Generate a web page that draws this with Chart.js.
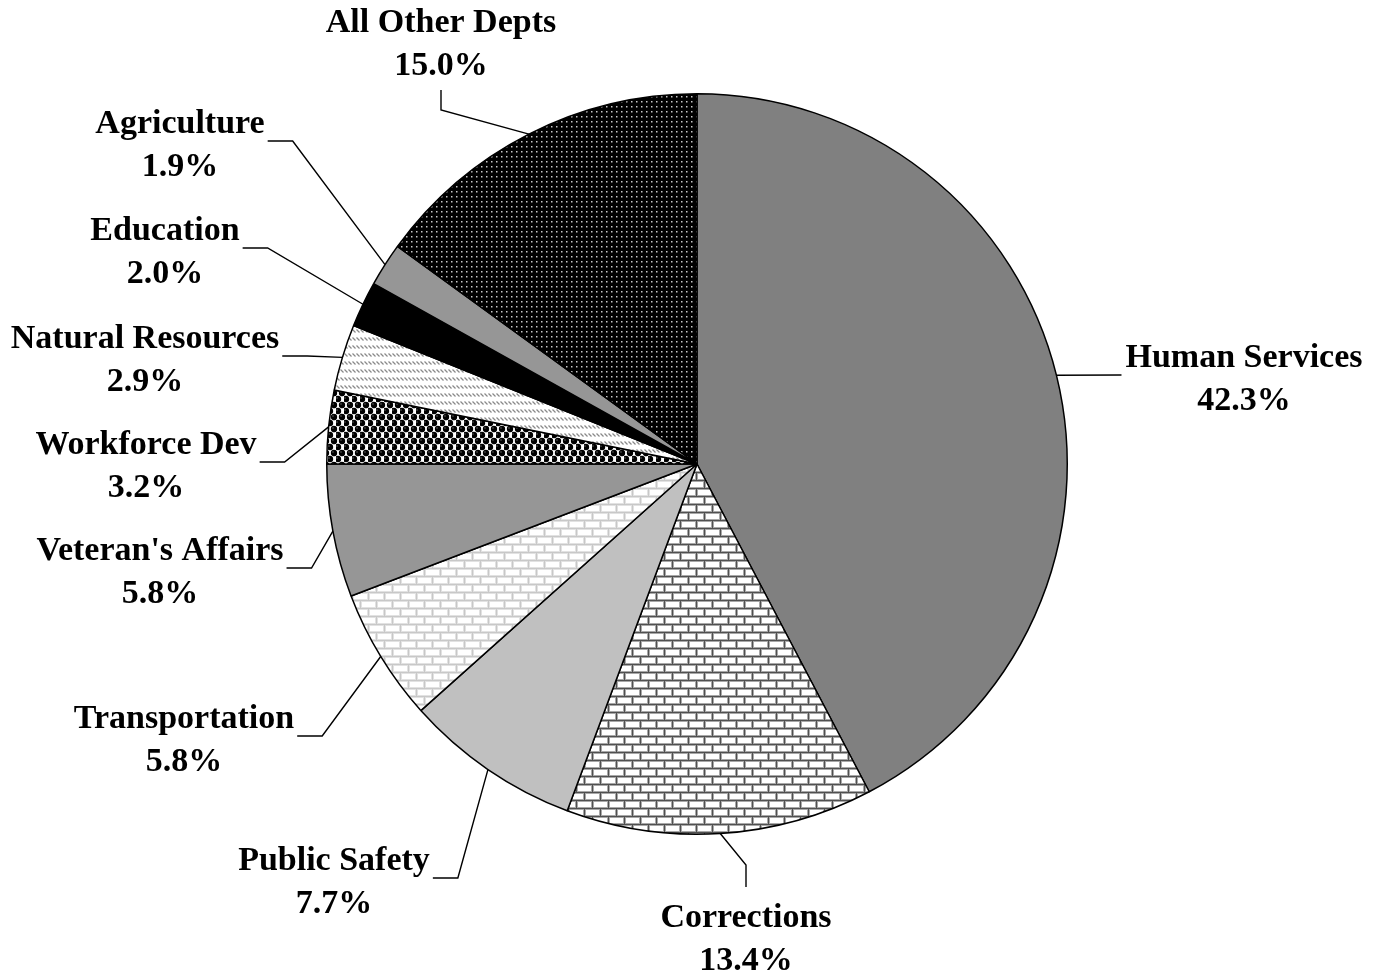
<!DOCTYPE html>
<html>
<head>
<meta charset="utf-8">
<script src="https://cdn.jsdelivr.net/npm/chart.js@4.4.0/dist/chart.umd.min.js"></script>
<style>
  body { margin: 0; background: #fff; }
  #wrap { width: 1380px; height: 978px; }
</style>
</head>
<body>
<div id="wrap"><canvas id="grafico" width="1380" height="978"></canvas></div>
<script>
// datos del grafico (en orden horario desde las 12)
const departamentos = ["Human Services", "Corrections", "Public Safety", "Transportation",
  "Veteran's Affairs", "Workforce Dev", "Natural Resources", "Education", "Agriculture", "All Other Depts"];
const porcentajes = [42.3, 13.4, 7.7, 5.8, 5.8, 3.2, 2.9, 2.0, 1.9, 15.0];
const etiquetasPct = ["42.3%", "13.4%", "7.7%", "5.8%", "5.8%", "3.2%", "2.9%", "2.0%", "1.9%", "15.0%"];

// donde va cada etiqueta (centro de la primera linea) y de que lado sale la linea guia
const posEtiquetas = [
  [1244, 358, 'left'], [746, 918, 'below'], [334, 861, 'right'], [184, 719, 'right'],
  [160, 551, 'right'], [146, 445, 'right'], [145, 339, 'right'], [165, 231, 'right'],
  [180, 124, 'right'], [441, 23, 'above']
];

function nuevoTile(w, h) {
  const c = document.createElement('canvas');
  c.width = w; c.height = h;
  return c;
}

function ladrillos(mortero, borde) {
  const c = nuevoTile(16, 16);
  const g = c.getContext('2d');
  g.fillStyle = mortero;
  g.fillRect(0, 0, 16, 16);
  function b(x, y) {
    g.fillStyle = borde;
    g.fillRect(x, y, 15, 7);
    g.fillStyle = '#fff';
    g.fillRect(x + 1, y + 1, 13, 5);
  }
  b(1, 1); b(-7, 9); b(9, 9);
  return g.createPattern(c, 'repeat');
}

function esferas() {
  const c = nuevoTile(8, 12);
  const g = c.getContext('2d');
  g.fillStyle = '#fff';
  g.fillRect(0, 0, 8, 12);
  [[2, 3], [6, 9], [-2, 9], [10, 9], [2, 15], [6, -3]].forEach(p => {
    g.fillStyle = '#000';
    g.beginPath();
    g.arc(p[0], p[1], 3.2, 0, Math.PI * 2);
    g.fill();
    g.fillStyle = '#aaa';
    g.fillRect(p[0] - 1.5, p[1] - 1.5, 1, 1);
  });
  return g.createPattern(c, 'repeat');
}

function rayitas() {
  const c = nuevoTile(4, 8);
  const g = c.getContext('2d');
  g.fillStyle = '#fff';
  g.fillRect(0, 0, 4, 8);
  g.strokeStyle = '#8a8a8a';
  g.lineWidth = 1.3;
  g.beginPath();
  g.moveTo(0.5, 1.5);
  g.lineTo(3.5, 4.5);
  g.stroke();
  return g.createPattern(c, 'repeat');
}

function puntitos() {
  const c = nuevoTile(5, 5);
  const g = c.getContext('2d');
  g.fillStyle = '#000';
  g.fillRect(0, 0, 5, 5);
  g.fillStyle = '#c8c8c8';
  g.fillRect(1, 1, 1.5, 1.5);
  return g.createPattern(c, 'repeat');
}

const rellenos = [
  '#808080', ladrillos('#505050', '#a8a8a8'), '#c0c0c0', ladrillos('#c8c8c8', '#e2e2e2'),
  '#969696', esferas(), rayitas(), '#000000', '#969696', puntitos()
];

const fuente = "bold 34px 'Liberation Serif', 'Times New Roman', serif";

const etiquetasPlugin = {
  id: 'etiquetas',
  afterDatasetsDraw(chart) {
    const ctx = chart.ctx;
    const meta = chart.getDatasetMeta(0);
    ctx.save();
    ctx.font = fuente;
    ctx.fillStyle = '#000';
    ctx.strokeStyle = '#000';
    ctx.lineWidth = 1.4;
    ctx.textAlign = 'center';
    ctx.textBaseline = 'middle';
    meta.data.forEach((arc, i) => {
      const [lx, ly, lado] = posEtiquetas[i];
      const mid = (arc.startAngle + arc.endAngle) / 2;
      const px = arc.x + Math.cos(mid) * arc.outerRadius;
      const py = arc.y + Math.sin(mid) * arc.outerRadius;
      const w = ctx.measureText(departamentos[i]).width;
      ctx.fillText(departamentos[i], lx, ly);
      ctx.fillText(etiquetasPct[i], lx, ly + 43);

      ctx.beginPath();
      if (lado === 'right') {
        const x0 = lx + w / 2 + 3;
        ctx.moveTo(x0, ly + 17);
        ctx.lineTo(x0 + 25, ly + 17);
        ctx.lineTo(px, py);
      } else if (lado === 'left') {
        ctx.moveTo(lx - w / 2 - 4, ly + 17);
        ctx.lineTo(px, py);
      } else if (lado === 'above') {
        ctx.moveTo(lx, ly + 67);
        ctx.lineTo(lx, ly + 87);
        ctx.lineTo(px, py);
      } else {
        ctx.moveTo(lx, ly - 31);
        ctx.lineTo(lx, ly - 53);
        ctx.lineTo(px, py);
      }
      ctx.stroke();
    });
    ctx.restore();
  }
};

new Chart(document.getElementById('grafico'), {
  type: 'pie',
  data: {
    labels: departamentos,
    datasets: [{
      data: porcentajes,
      backgroundColor: rellenos,
      borderColor: '#000',
      borderWidth: 1.5
    }]
  },
  options: {
    responsive: false,
    animation: false,
    layout: { padding: { top: 93, bottom: 143, left: 326, right: 312 } },
    plugins: {
      legend: { display: false },
      tooltip: { enabled: false }
    }
  },
  plugins: [etiquetasPlugin]
});
</script>
</body>
</html>
